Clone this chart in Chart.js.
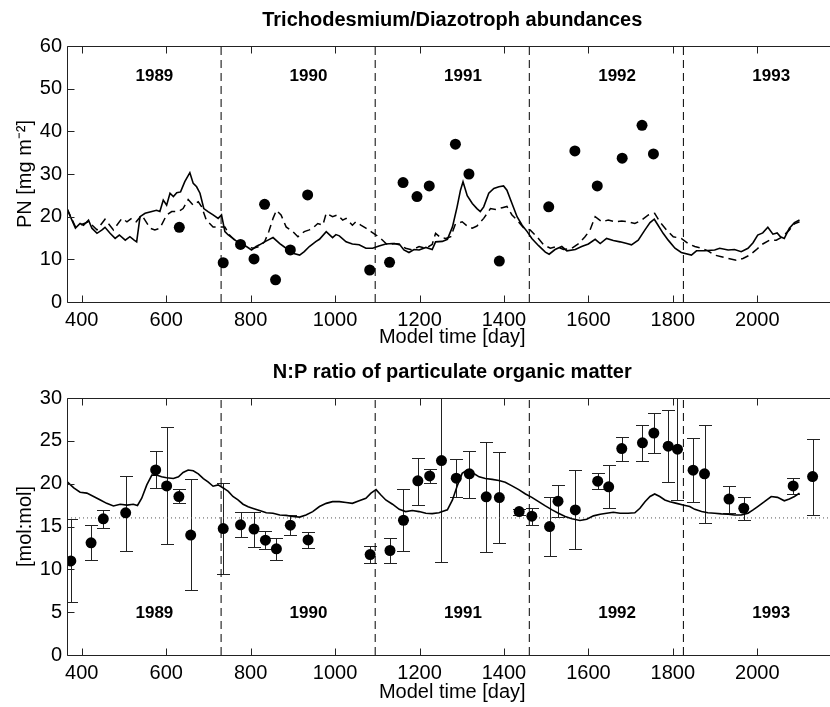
<!DOCTYPE html>
<html><head><meta charset="utf-8">
<script src="https://cdn.jsdelivr.net/npm/chart.js@4.4.0/dist/chart.umd.min.js"></script>
<style>
html,body{margin:0;padding:0;background:#fff;overflow:hidden;width:830px;height:707px;}
#wrap{position:relative;width:830px;height:707px;overflow:hidden;background:#fff;}
canvas{position:absolute;left:0;}
</style></head><body>
<div id="wrap">
<canvas id="topChart" width="843" height="353" style="top:0px"></canvas>
<canvas id="botChart" width="843" height="354" style="top:353px"></canvas>
</div>
<script>
// ---------- DATA ----------
const xTickValues = [400, 600, 800, 1000, 1200, 1400, 1600, 1800, 2000];
const yearBoundaries = [730, 1095, 1460, 1825];
const yearLabels = ['1989', '1990', '1991', '1992', '1993'];
const yearLabelDays = [572, 937, 1303, 1668, 2033];

// Top panel: model PN (solid), model PN (dashed), observations (dots)
const pnModelSolid = [
[365,21.9],[373,20.0],[385,17.3],[396,18.4],[404,18.0],[416,19.2],[424,17.3],[436,16.1],[448,16.9],[455,17.5],
[467,16.1],[479,14.9],[489,15.7],[503,14.5],[514,15.3],[524,14.5],[530,14.1],[538,20.0],[550,20.8],[566,21.2],
[577,21.5],[585,21.2],[593,23.9],[601,22.7],[609,25.5],[617,24.7],[625,25.6],[634,25.8],[644,28.2],[656,30.3],
[664,27.8],[672,27.0],[680,25.5],[689,21.9],[699,21.2],[711,20.4],[723,19.6],[731,20.4],[739,16.5],[747,15.7],
[758,14.9],[774,13.7],[790,13.0],[802,12.2],[813,13.0],[821,13.4],[833,14.1],[841,14.5],[853,15.1],[869,13.7],
[884,12.6],[900,11.4],[916,11.0],[927,11.8],[939,13.0],[955,14.2],[963,14.7],[979,16.5],[994,15.1],[1002,15.8],
[1010,15.5],[1026,14.1],[1041,13.6],[1057,13.4],[1073,12.6],[1089,12.6],[1104,13.1],[1120,13.6],[1136,13.7],[1152,13.6],
[1163,12.2],[1175,11.6],[1187,12.3],[1199,12.2],[1215,12.8],[1230,12.3],[1238,14.1],[1254,14.2],[1266,14.7],[1278,17.6],
[1289,22.3],[1297,26.2],[1303,28.2],[1313,24.9],[1325,23.1],[1336,21.9],[1344,21.2],[1352,22.3],[1364,25.5],[1376,26.6],
[1388,27.0],[1399,27.2],[1407,26.2],[1419,23.1],[1431,20.0],[1443,18.0],[1455,16.5],[1466,14.9],[1482,13.2],[1498,11.7],
[1507,11.2],[1521,12.3],[1537,13.0],[1549,12.0],[1569,12.3],[1584,13.0],[1600,13.6],[1616,14.7],[1628,13.7],[1643,14.9],
[1659,14.4],[1675,14.1],[1691,13.7],[1702,13.4],[1718,14.5],[1734,16.9],[1746,18.6],[1756,19.4],[1765,18.0],[1777,16.1],
[1789,14.5],[1805,12.6],[1820,11.6],[1844,11.0],[1856,12.0],[1875,12.0],[1899,12.2],[1911,12.6],[1931,12.2],[1946,12.3],
[1962,11.8],[1978,12.6],[1990,13.9],[2001,15.7],[2013,16.2],[2025,17.5],[2037,15.9],[2047,16.2],[2055,15.3],[2064,14.9],
[2076,17.3],[2088,18.6],[2100,19.2]
];
const pnModelDashed = [
[365,21.9],[385,17.6],[416,18.8],[436,16.9],[455,19.4],[475,16.9],[495,19.6],[507,18.8],[518,19.6],[529,18.8],
[542,20.4],[562,17.3],[573,16.9],[585,17.3],[601,20.4],[613,21.2],[629,21.2],[640,21.9],[652,24.0],[664,22.7],
[676,23.5],[684,22.3],[695,19.2],[711,17.6],[723,17.6],[739,17.6],[750,15.7],[766,14.1],[778,13.4],[790,13.0],
[806,12.6],[821,13.0],[833,14.1],[843,16.5],[853,19.6],[861,21.5],[872,20.4],[884,17.6],[900,16.5],[912,15.3],
[927,16.5],[939,16.9],[947,17.3],[959,18.4],[971,18.0],[979,20.8],[994,20.0],[1006,20.4],[1018,19.2],[1026,19.6],
[1041,18.0],[1049,18.8],[1061,18.0],[1073,17.3],[1085,16.5],[1097,15.7],[1108,14.9],[1124,13.4],[1140,13.7],[1152,13.4],
[1167,12.6],[1183,12.2],[1199,13.0],[1215,12.6],[1230,13.5],[1238,16.1],[1250,15.1],[1262,14.9],[1274,15.3],[1285,18.3],
[1301,18.8],[1313,17.8],[1325,17.3],[1336,17.8],[1352,19.6],[1368,21.9],[1380,21.7],[1396,22.1],[1407,22.4],[1419,20.4],
[1431,19.2],[1447,17.3],[1462,16.9],[1478,15.3],[1494,13.4],[1510,12.6],[1525,13.0],[1541,12.3],[1561,12.6],[1577,13.7],
[1592,15.3],[1604,16.9],[1616,20.0],[1632,18.8],[1647,19.2],[1663,18.8],[1679,19.0],[1694,18.8],[1710,18.4],[1726,19.2],
[1742,20.4],[1757,20.8],[1769,18.8],[1785,16.9],[1801,15.3],[1820,14.9],[1836,13.7],[1852,13.0],[1868,12.6],[1883,12.0],
[1899,11.0],[1915,10.6],[1931,10.2],[1950,9.8],[1966,10.2],[1982,11.0],[1997,12.2],[2013,13.6],[2029,14.5],[2045,14.5],
[2060,15.3],[2076,16.9],[2088,18.3],[2100,18.8]
];
const pnObsDays = [631,735,776,808,833,859,894,935,1082,1129,1161,1194,1223,1285,1317,1389,1506,1568,1621,1680,1727,1754];
const pnObsValues = [17.5,9.2,13.5,10.1,22.9,5.2,12.2,25.1,7.5,9.3,28.0,24.7,27.2,37.0,30.0,9.6,22.3,35.4,27.2,33.7,41.4,34.7];

// Bottom panel: model N:P (solid), Redfield reference, observations with error bars
const npModel = [
[365,20.25],[381,19.5],[396,19.0],[412,18.9],[428,18.5],[444,18.1],[459,17.7],[475,17.4],[491,17.6],[507,17.5],
[522,17.6],[532,17.45],[542,18.3],[554,19.86],[566,21.0],[577,21.0],[589,20.8],[601,20.7],[617,20.6],[629,20.8],
[640,21.3],[652,21.6],[664,21.5],[676,21.15],[688,20.6],[699,20.2],[711,19.7],[723,19.86],[735,19.5],[747,19.1],
[758,18.5],[770,18.1],[782,17.6],[794,17.3],[806,17.1],[821,16.86],[837,16.6],[853,16.55],[869,16.35],[884,16.3],
[900,16.16],[916,16.1],[931,16.35],[947,16.74],[963,17.33],[979,17.7],[994,17.9],[1010,17.9],[1026,17.8],[1041,17.7],
[1057,18.0],[1073,18.3],[1085,18.9],[1097,19.3],[1108,18.7],[1120,18.1],[1136,17.6],[1152,17.0],[1167,16.74],[1183,16.86],
[1199,16.74],[1215,16.55],[1230,16.5],[1246,16.6],[1254,16.74],[1266,16.94],[1278,18.1],[1289,19.7],[1301,21.2],[1313,21.6],
[1325,21.3],[1341,20.8],[1356,20.6],[1372,20.5],[1388,20.37],[1403,20.17],[1419,19.74],[1435,19.3],[1451,18.8],[1466,18.4],
[1482,17.9],[1498,17.4],[1514,16.94],[1529,16.55],[1545,16.16],[1561,15.9],[1580,15.7],[1596,15.85],[1612,16.24],[1628,16.43],
[1643,16.55],[1659,16.67],[1675,16.55],[1694,16.55],[1710,16.6],[1722,17.13],[1734,17.9],[1746,18.5],[1757,18.8],[1769,18.5],
[1781,18.1],[1793,17.9],[1809,17.7],[1824,17.5],[1840,17.33],[1852,17.0],[1868,16.74],[1883,16.6],[1899,16.55],[1915,16.47],
[1931,16.43],[1946,16.35],[1962,16.35],[1978,16.55],[1990,16.94],[2001,17.33],[2017,17.9],[2033,18.5],[2048,18.4],[2064,18.0],
[2076,18.2],[2088,18.5],[2100,18.9]
];
const redfieldRatio = 16;
const npObsDays = [374,422,451,504,575,601,630,658,735,776,808,835,861,894,936,1083,1130,1162,1196,1224,1252,1287,1318,1358,1389,1436,1466,1508,1528,1569,1622,1648,1679,1728,1755,1789,1811,1848,1875,1933,1968,2085,2131];
const npObsValues = [10.98,13.1,15.9,16.6,21.6,19.74,18.5,14.0,14.76,15.2,14.7,13.4,12.4,15.15,13.43,11.72,12.2,15.73,20.33,20.9,22.7,20.64,21.15,18.46,18.38,16.74,16.2,14.99,17.95,16.94,20.29,19.63,24.1,24.77,25.9,24.38,24.03,21.57,21.15,18.2,17.13,19.74,20.83];
const npObsLow = [6.15,11.1,14.8,12.1,19.55,12.9,17.7,7.6,9.4,13.74,12.6,12.4,11.05,13.98,12.5,10.7,10.74,12.1,17.56,20.06,10.86,18.5,18.3,12.0,13.05,16.35,15.2,11.6,16.16,12.34,19.35,17.13,22.7,22.66,23.56,20.17,18.1,17.9,15.46,16.6,15.77,18.8,16.35];
const npObsHigh = [15.85,15.2,16.9,20.95,23.76,26.6,19.35,20.5,20.1,16.74,16.74,14.5,13.7,16.35,14.3,12.73,13.6,19.35,23.05,21.7,36,22.86,23.87,24.9,23.7,17.05,17.2,18.4,19.8,21.6,21.2,22.2,25.5,26.8,28.2,28.55,36,25.3,26.8,19.67,18.4,20.64,25.2];

// ---------- RENDERING ----------
const FONT = "'Liberation Sans', Arial, Helvetica, sans-serif";
const X_MIN = 365, X_MAX = 2190;
const toXY = arr => arr.map(p => ({x: p[0], y: p[1]}));

function yearLineDatasets(yMin, yMax) {
  return yearBoundaries.map(d => ({
    data: [{x: d, y: yMin}, {x: d, y: yMax}],
    showLine: true, borderColor: '#000', borderWidth: 1, borderDash: [8, 5],
    pointRadius: 0, order: 5
  }));
}

function decorPlugin(opts) {
  return {
    id: 'decor_' + opts.name,
    beforeDatasetsDraw(chart) {
      if (!opts.errorBars) return;
      const {ctx, chartArea: a, scales: {x, y}} = chart;
      ctx.save();
      ctx.beginPath(); ctx.rect(a.left, a.top, a.right - a.left, a.bottom - a.top); ctx.clip();
      ctx.strokeStyle = '#222'; ctx.lineWidth = 1;
      const cap = 6.5;
      ctx.beginPath();
      opts.errorBars.days.forEach((d, i) => {
        const px = Math.round(x.getPixelForValue(d)) + 0.5;
        const pl = Math.round(y.getPixelForValue(opts.errorBars.low[i])) + 0.5;
        const ph = Math.round(y.getPixelForValue(opts.errorBars.high[i])) + 0.5;
        ctx.moveTo(px, pl); ctx.lineTo(px, ph);
        ctx.moveTo(px - cap, pl); ctx.lineTo(px + cap, pl);
        ctx.moveTo(px - cap, ph); ctx.lineTo(px + cap, ph);
      });
      ctx.stroke();
      ctx.restore();
    },
    afterDraw(chart) {
      const {ctx, chartArea: a, scales: {x, y}} = chart;
      ctx.save();
      ctx.strokeStyle = '#222'; ctx.lineWidth = 1;
      const L = 7;
      const l = Math.round(a.left) + 0.5, r = Math.round(a.right) + 0.5;
      const t = Math.round(a.top) + 0.5, b = Math.round(a.bottom) + 0.5;
      ctx.beginPath();
      ctx.moveTo(l, t); ctx.lineTo(r, t); ctx.lineTo(r, b); ctx.lineTo(l, b); ctx.closePath();
      x.ticks.forEach(tk => {
        const px = Math.round(x.getPixelForValue(tk.value)) + 0.5;
        ctx.moveTo(px, b); ctx.lineTo(px, b - L);
        ctx.moveTo(px, t); ctx.lineTo(px, t + L);
      });
      y.ticks.forEach(tk => {
        const py = Math.round(y.getPixelForValue(tk.value)) + 0.5;
        ctx.moveTo(l, py); ctx.lineTo(l + L, py);
        ctx.moveTo(r, py); ctx.lineTo(r - L, py);
      });
      ctx.stroke();
      ctx.fillStyle = '#000';
      ctx.textAlign = 'center'; ctx.textBaseline = 'middle';
      ctx.font = 'bold 20px ' + FONT;
      ctx.fillText(opts.title, (a.left + a.right) / 2, opts.titleY);
      ctx.font = 'bold 17px ' + FONT;
      yearLabelDays.forEach((d, i) => {
        ctx.fillText(yearLabels[i], x.getPixelForValue(d), y.getPixelForValue(opts.yearLabelY));
      });
      ctx.restore();
    }
  };
}

function makeOptions(p) {
  return {
    responsive: false, animation: false, events: [],
    layout: {padding: {left: 0, right: 2.5, top: p.padTop, bottom: 0}},
    plugins: {legend: {display: false}, tooltip: {enabled: false}, title: {display: false}},
    scales: {
      x: {
        type: 'linear', min: X_MIN, max: X_MAX,
        grid: {display: false, drawTicks: false}, border: {display: false},
        afterBuildTicks: s => { s.ticks = xTickValues.map(v => ({value: v})); },
        afterFit: s => { s.height = p.xHeight; },
        ticks: {color: '#000', font: {family: FONT, size: 20}, padding: 6, maxRotation: 0, autoSkip: false, callback: v => String(v)},
        title: {display: true, text: 'Model time [day]', color: '#000', font: {family: FONT, size: 20}, padding: {top: 0, bottom: p.xTitlePad}}
      },
      y: {
        type: 'linear', min: p.yMin, max: p.yMax,
        grid: {display: false, drawTicks: false}, border: {display: false},
        afterFit: s => { s.width = 67; },
        ticks: {color: '#000', font: {family: FONT, size: 20}, padding: 5, stepSize: p.yStep, callback: v => String(v)},
        title: {display: true, text: p.yTitle, color: '#000', font: {family: FONT, size: 20}, padding: {top: 13, bottom: 0}}
      }
    }
  };
}

// Top chart
new Chart(document.getElementById('topChart'), {
  type: 'scatter',
  data: {datasets: [
    ...yearLineDatasets(0, 60),
    {data: toXY(pnModelDashed), showLine: true, borderColor: '#000', borderWidth: 1.5, borderDash: [8, 5], pointRadius: 0, order: 3},
    {data: toXY(pnModelSolid), showLine: true, borderColor: '#000', borderWidth: 1.6, pointRadius: 0, order: 2},
    {data: pnObsDays.map((d, i) => ({x: d, y: pnObsValues[i]})), showLine: false, pointRadius: 5.5, pointBackgroundColor: '#000', pointBorderColor: '#000', pointBorderWidth: 0, order: 1}
  ]},
  options: makeOptions({padTop: 46, xHeight: 51, yMin: 0, yMax: 60, yStep: 10, yTitle: 'PN [mg m\u207B\u00B2]', xTitlePad: 4}),
  plugins: [decorPlugin({name: 'top', title: 'Trichodesmium/Diazotroph abundances', titleY: 20, yearLabelY: 53})]
});

// Bottom chart
new Chart(document.getElementById('botChart'), {
  type: 'scatter',
  data: {datasets: [
    ...yearLineDatasets(0, 30),
    {data: [{x: X_MIN, y: redfieldRatio}, {x: X_MAX, y: redfieldRatio}], showLine: true, borderColor: '#555', borderWidth: 1, borderDash: [1, 3], pointRadius: 0, order: 4},
    {data: toXY(npModel), showLine: true, borderColor: '#000', borderWidth: 1.6, pointRadius: 0, order: 2},
    {data: npObsDays.map((d, i) => ({x: d, y: npObsValues[i]})), showLine: false, pointRadius: 5.5, pointBackgroundColor: '#000', pointBorderColor: '#000', pointBorderWidth: 0, order: 1}
  ]},
  options: makeOptions({padTop: 45, xHeight: 52, yMin: 0, yMax: 30, yStep: 5, yTitle: '[mol:mol]', xTitlePad: 3}),
  plugins: [decorPlugin({name: 'bot', title: 'N:P ratio of particulate organic matter', titleY: 19, yearLabelY: 4.9,
    errorBars: {days: npObsDays, low: npObsLow, high: npObsHigh}})]
});
</script>
</body></html>
